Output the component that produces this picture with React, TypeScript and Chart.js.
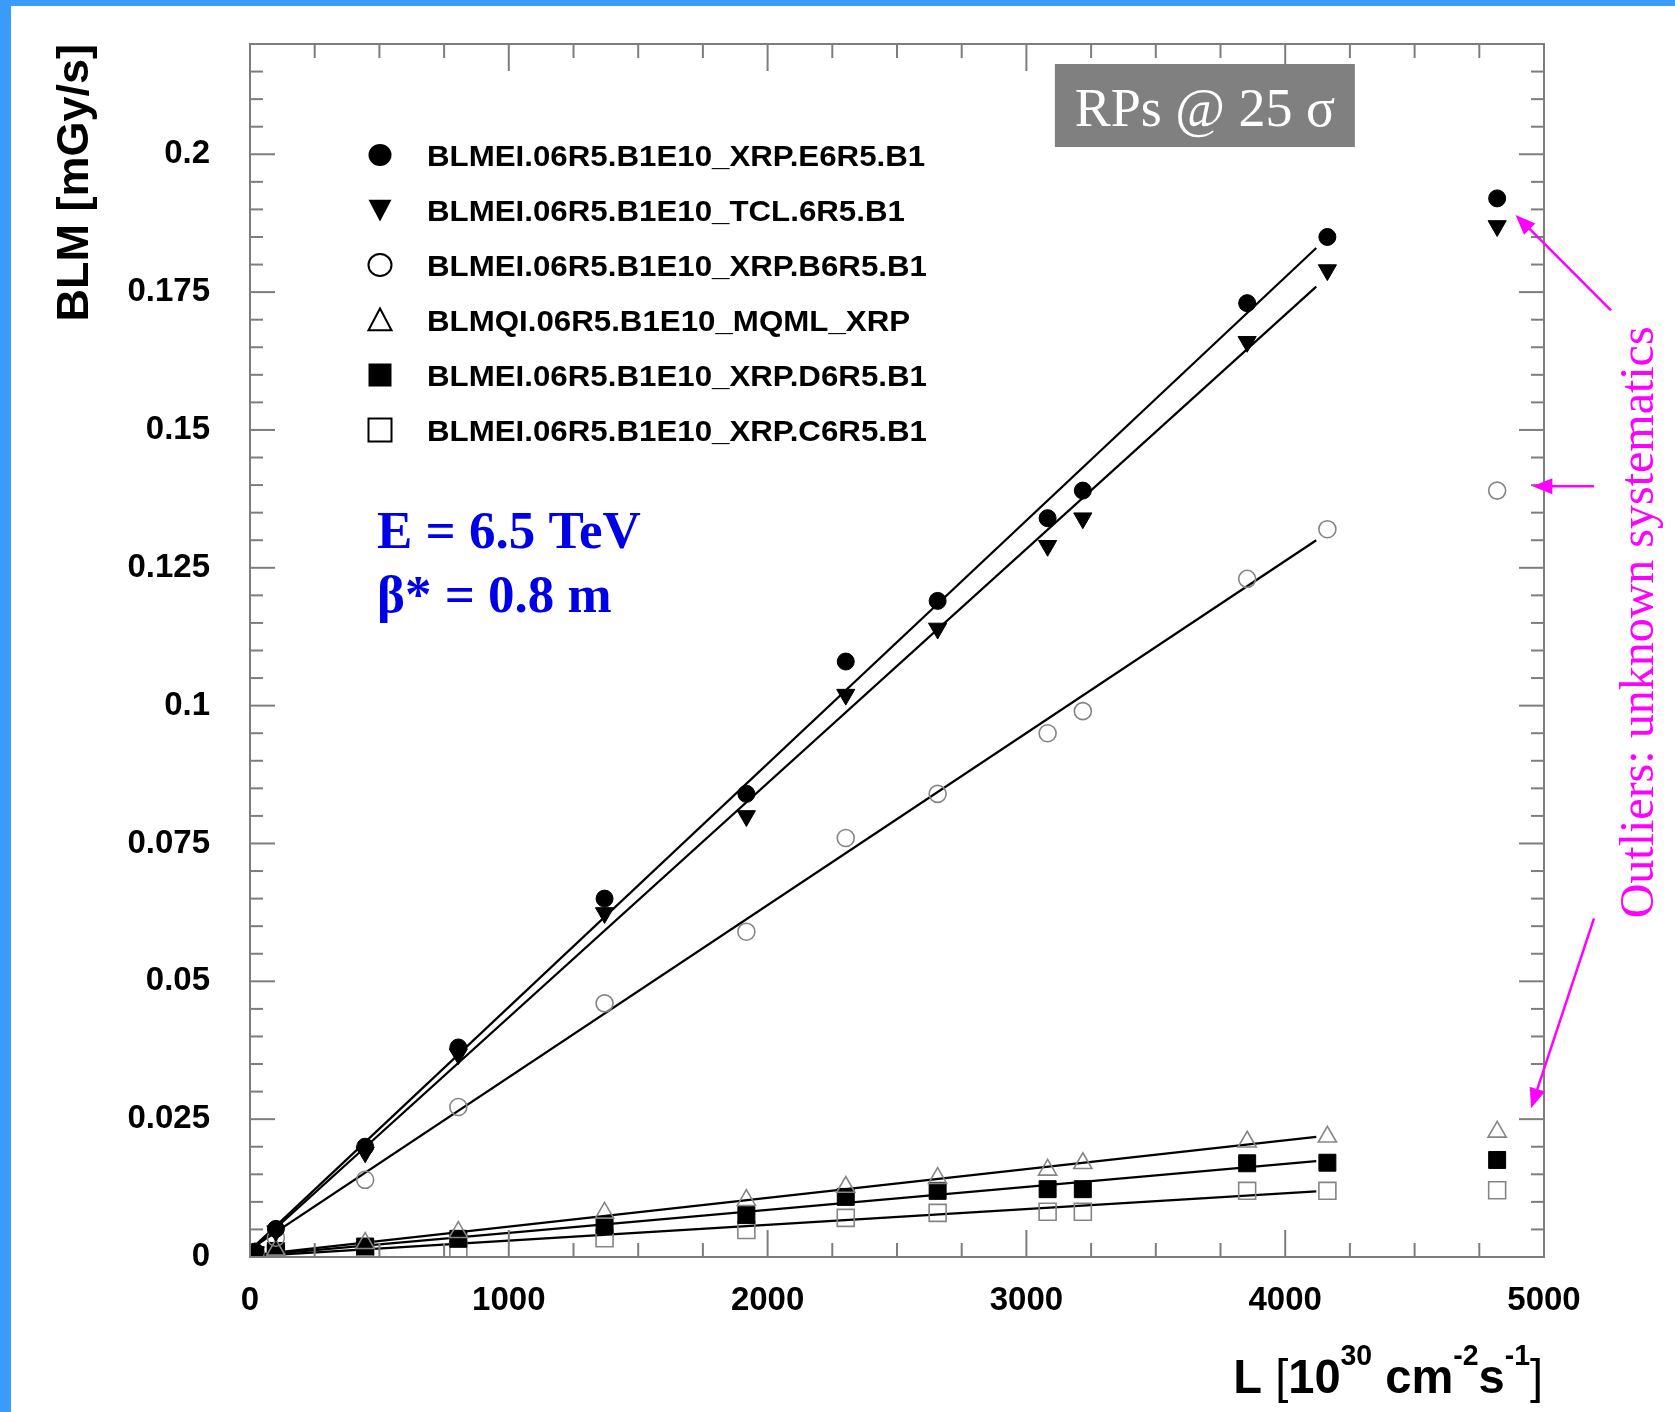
import React, { useEffect, useRef } from 'react';
import { Chart, registerables } from 'chart.js';

Chart.register(...registerables);

const SANS = '"Liberation Sans", Arial, Helvetica, sans-serif';
const SERIF = '"Liberation Serif", "Times New Roman", Times, serif';

// ---------------- data ----------------
const luminosity = [20, 100, 445, 805, 1370, 1918, 2302, 2657, 3082, 3218, 3853, 4163, 4819];

const seriesLabels = [
  'BLMEI.06R5.B1E10_XRP.E6R5.B1',
  'BLMEI.06R5.B1E10_TCL.6R5.B1',
  'BLMEI.06R5.B1E10_XRP.B6R5.B1',
  'BLMQI.06R5.B1E10_MQML_XRP',
  'BLMEI.06R5.B1E10_XRP.D6R5.B1',
  'BLMEI.06R5.B1E10_XRP.C6R5.B1',
];

const xrpE6 = [0.001, 0.0051, 0.020, 0.038, 0.065, 0.084, 0.108, 0.119, 0.134, 0.139, 0.173, 0.185, 0.192];
const tclB1 = [0.0009, 0.0047, 0.019, 0.0368, 0.0624, 0.080, 0.102, 0.114, 0.129, 0.134, 0.166, 0.179, 0.187];
const xrpB6 = [0.0008, 0.0035, 0.014, 0.0272, 0.046, 0.059, 0.076, 0.084, 0.095, 0.099, 0.123, 0.132, 0.139];
const mqmlXrp = [0.0004, 0.0013, 0.0025, 0.0045, 0.008, 0.0103, 0.0127, 0.0143, 0.0158, 0.017, 0.0209, 0.0218, 0.0227];
const xrpD6 = [0.0003, 0.0011, 0.0019, 0.0033, 0.0058, 0.0076, 0.0109, 0.012, 0.0123, 0.0123, 0.017, 0.0171, 0.0176];
const xrpC6 = [0.0002, 0.0006, 0.0012, 0.0013, 0.0034, 0.0049, 0.0071, 0.008, 0.0082, 0.0082, 0.012, 0.012, 0.0121];

// linear fits (end points)
const fitRange = [0, 4120];
const fitE6 = [0.0012, 0.183];
const fitTCL = [0.0010, 0.176];
const fitB6 = [0.0014, 0.130];
const fitMQML = [0.0003, 0.0218];
const fitD6 = [0.0002, 0.0174];
const fitC6 = [0.0001, 0.0119];

const xTicks = [0, 1000, 2000, 3000, 4000, 5000];
const yTicks = [0, 0.025, 0.05, 0.075, 0.1, 0.125, 0.15, 0.175, 0.2];

const boxText = 'RPs @ 25 σ';
const energyText = ['E = 6.5 TeV', 'β* = 0.8 m'];
const outlierText = 'Outliers: unknown systematics';
const yTitle = 'BLM [mGy/s]';
const xTitleParts = [
  { t: 'L ', bold: true, sup: false },
  { t: '[', bold: false, sup: false },
  { t: '10', bold: true, sup: false },
  { t: '30', bold: true, sup: true },
  { t: ' cm', bold: true, sup: false },
  { t: '-2', bold: true, sup: true },
  { t: 's', bold: true, sup: false },
  { t: '-1', bold: true, sup: true },
  { t: ']', bold: false, sup: false },
];

type Kind = 'circle' | 'triangleDown' | 'openCircle' | 'openTriangle' | 'square' | 'openSquare';
const kinds: Kind[] = ['circle', 'triangleDown', 'openCircle', 'openTriangle', 'square', 'openSquare'];
const seriesValues = [xrpE6, tclB1, xrpB6, mqmlXrp, xrpD6, xrpC6];
const fitValues = [fitE6, fitTCL, fitB6, fitMQML, fitD6, fitC6];

const OPEN_GRAY = '#858585';

function styleFor(kind: Kind) {
  switch (kind) {
    case 'circle':
      return { pointStyle: 'circle', pointRadius: 8.5, pointBackgroundColor: '#000', pointBorderColor: '#000', pointBorderWidth: 1, pointRotation: 0 };
    case 'triangleDown':
      return { pointStyle: 'triangle', pointRadius: 10.5, pointBackgroundColor: '#000', pointBorderColor: '#000', pointBorderWidth: 1, pointRotation: 180 };
    case 'openCircle':
      return { pointStyle: 'circle', pointRadius: 8.5, pointBackgroundColor: 'rgba(255,255,255,0)', pointBorderColor: OPEN_GRAY, pointBorderWidth: 1.6, pointRotation: 0 };
    case 'openTriangle':
      return { pointStyle: 'triangle', pointRadius: 10.5, pointBackgroundColor: 'rgba(255,255,255,0)', pointBorderColor: OPEN_GRAY, pointBorderWidth: 1.6, pointRotation: 0 };
    case 'square':
      return { pointStyle: 'rect', pointRadius: 12, pointBackgroundColor: '#000', pointBorderColor: '#000', pointBorderWidth: 1, pointRotation: 0 };
    default:
      return { pointStyle: 'rect', pointRadius: 12, pointBackgroundColor: 'rgba(255,255,255,0)', pointBorderColor: OPEN_GRAY, pointBorderWidth: 1.6, pointRotation: 0 };
  }
}

function drawLegendMarker(ctx: CanvasRenderingContext2D, kind: Kind, x: number, y: number, s: number) {
  const h = s / 2;
  ctx.beginPath();
  if (kind === 'circle' || kind === 'openCircle') {
    ctx.ellipse(x, y, h, h * 0.95, 0, 0, Math.PI * 2);
  } else if (kind === 'triangleDown') {
    ctx.moveTo(x - h, y - h * 0.9);
    ctx.lineTo(x + h, y - h * 0.9);
    ctx.lineTo(x, y + h * 1.0);
    ctx.closePath();
  } else if (kind === 'openTriangle') {
    ctx.moveTo(x - h, y + h * 0.9);
    ctx.lineTo(x + h, y + h * 0.9);
    ctx.lineTo(x, y - h * 1.0);
    ctx.closePath();
  } else {
    ctx.rect(x - h, y - h, s, s);
  }
  if (kind.startsWith('open')) {
    ctx.strokeStyle = '#000';
    ctx.lineWidth = 2;
    ctx.stroke();
  } else {
    ctx.fillStyle = '#000';
    ctx.fill();
  }
}

function arrow(ctx: CanvasRenderingContext2D, x1: number, y1: number, x2: number, y2: number) {
  const ang = Math.atan2(y2 - y1, x2 - x1);
  const hl = 20;
  const hw = 8;
  const bx = x2 - Math.cos(ang) * hl;
  const by = y2 - Math.sin(ang) * hl;
  ctx.beginPath();
  ctx.moveTo(x1, y1);
  ctx.lineTo(bx + Math.cos(ang) * 4, by + Math.sin(ang) * 4);
  ctx.stroke();
  ctx.beginPath();
  ctx.moveTo(x2, y2);
  ctx.lineTo(bx - Math.sin(ang) * hw, by + Math.cos(ang) * hw);
  ctx.lineTo(bx + Math.sin(ang) * hw, by - Math.cos(ang) * hw);
  ctx.closePath();
  ctx.fill();
}

const decorPlugin = {
  id: 'decor',
  beforeDraw(chart: any) {
    const { ctx, width, height } = chart;
    ctx.save();
    ctx.fillStyle = '#ffffff';
    ctx.fillRect(0, 0, width, height);
    ctx.fillStyle = '#3b9bfa';
    ctx.fillRect(0, 0, 11, height);
    ctx.fillRect(0, 0, width, 6);
    ctx.restore();
  },
  afterDraw(chart: any) {
    const { ctx, chartArea: a, scales } = chart;
    const x = scales.x;
    const y = scales.y;
    ctx.save();

    // frame and inward ticks (ROOT style)
    ctx.strokeStyle = '#7d7d7d';
    ctx.lineWidth = 2;
    ctx.strokeRect(a.left, a.top, a.right - a.left, a.bottom - a.top);
    const seg = (x1: number, y1: number, x2: number, y2: number) => {
      ctx.beginPath();
      ctx.moveTo(x1, y1);
      ctx.lineTo(x2, y2);
      ctx.stroke();
    };
    for (let i = 0; i <= 20; i++) {
      const px = x.getPixelForValue(i * 250);
      const len = i % 4 === 0 ? 27 : 14;
      seg(px, a.bottom, px, a.bottom - len);
      seg(px, a.top, px, a.top + len);
    }
    for (let i = 0; i <= 44; i++) {
      const py = y.getPixelForValue(i * 0.005);
      const len = i % 5 === 0 ? 25 : 13;
      seg(a.left, py, a.left + len, py);
      seg(a.right, py, a.right - len, py);
    }

    // legend
    const ds = chart.data.datasets.filter((d: any) => d.kind);
    ds.forEach((d: any, i: number) => {
      const cy = a.top + 111 + i * 55;
      drawLegendMarker(ctx, d.kind, a.left + 130, cy, 23);
      ctx.save();
      ctx.translate(a.left + 177, cy + 11);
      ctx.scale(1.06, 1);
      ctx.fillStyle = '#000';
      ctx.font = `bold 29.5px ${SANS}`;
      ctx.textAlign = 'left';
      ctx.textBaseline = 'alphabetic';
      ctx.fillText(d.label, 0, 0);
      ctx.restore();
    });

    // RPs box
    const bx = x.getPixelForValue(3110);
    ctx.fillStyle = '#808080';
    ctx.fillRect(bx, a.top + 20, 300, 83);
    ctx.fillStyle = '#ffffff';
    ctx.font = `54px ${SERIF}`;
    ctx.textAlign = 'center';
    ctx.textBaseline = 'alphabetic';
    ctx.fillText(boxText, bx + 150, a.top + 82);

    // energy text
    ctx.fillStyle = '#0000e6';
    ctx.font = `bold 53px ${SERIF}`;
    ctx.textAlign = 'left';
    ctx.fillText(energyText[0], a.left + 127, a.top + 504);
    ctx.fillText(energyText[1], a.left + 127, a.top + 568);

    // outliers annotation
    ctx.fillStyle = '#ff00ff';
    ctx.strokeStyle = '#ff00ff';
    ctx.lineWidth = 2.5;
    ctx.save();
    ctx.translate(a.right + 109, y.getPixelForValue(0.1151));
    ctx.rotate(-Math.PI / 2);
    ctx.font = `48px ${SERIF}`;
    ctx.textAlign = 'center';
    ctx.fillText(outlierText, 0, 0);
    ctx.restore();
    arrow(ctx, a.right + 67, y.getPixelForValue(0.1717), x.getPixelForValue(4890), y.getPixelForValue(0.189));
    arrow(ctx, a.right + 50, y.getPixelForValue(0.1398), x.getPixelForValue(4955), y.getPixelForValue(0.1398));
    arrow(ctx, a.right + 50, y.getPixelForValue(0.0614), x.getPixelForValue(4950), y.getPixelForValue(0.027));

    // x axis title with superscripts
    ctx.fillStyle = '#000';
    ctx.textAlign = 'left';
    ctx.textBaseline = 'alphabetic';
    const fontOf = (p: any) => `${p.bold ? 'bold ' : ''}${p.sup ? 29 : 48}px ${SANS}`;
    let total = 0;
    xTitleParts.forEach((p) => {
      ctx.font = fontOf(p);
      total += ctx.measureText(p.t).width;
    });
    const sx = 0.98;
    ctx.save();
    ctx.translate(a.right - 1 - total * sx, a.bottom + 136);
    ctx.scale(sx, 1);
    let cx = 0;
    xTitleParts.forEach((p) => {
      ctx.font = fontOf(p);
      ctx.fillText(p.t, cx, p.sup ? -28 : 0);
      cx += ctx.measureText(p.t).width;
    });
    ctx.restore();

    ctx.restore();
  },
};

export default function App() {
  const ref = useRef<HTMLCanvasElement | null>(null);

  useEffect(() => {
    if (!ref.current) return;
    const pointDatasets = kinds.map((kind, i) => ({
      type: 'scatter' as const,
      label: seriesLabels[i],
      kind,
      data: luminosity.map((lx, j) => ({ x: lx, y: seriesValues[i][j] })),
      showLine: false,
      ...styleFor(kind),
      order: 1,
    }));
    const fitDatasets = fitValues.map((f) => ({
      type: 'scatter' as const,
      label: '',
      data: fitRange.map((fx, j) => ({ x: fx, y: f[j] })),
      showLine: true,
      borderColor: '#000',
      borderWidth: 2.2,
      pointRadius: 0,
      order: 2,
    }));

    const tickFont = { family: SANS, size: 33, weight: 'bold' as const, lineHeight: 1.2 };

    const chart = new Chart(ref.current, {
      type: 'scatter',
      data: { datasets: [...pointDatasets, ...fitDatasets] as any },
      options: {
        animation: false,
        responsive: false,
        maintainAspectRatio: false,
        events: [],
        layout: { autoPadding: false, padding: { left: 0, top: 44, right: 131, bottom: 0 } },
        plugins: { legend: { display: false }, tooltip: { enabled: false } },
        scales: {
          x: {
            type: 'linear',
            min: 0,
            max: 5000,
            afterBuildTicks: (s: any) => {
              s.ticks = xTicks.map((v) => ({ value: v }));
            },
            afterFit: (s: any) => {
              s.height = 155;
              s.paddingLeft = 0;
              s.paddingRight = 0;
            },
            grid: { display: false, drawTicks: false },
            border: { display: false },
            ticks: {
              padding: 24,
              color: '#000',
              font: tickFont,
              maxRotation: 0,
              autoSkip: false,
              callback: (v: any) => String(v),
            },
          },
          y: {
            type: 'linear',
            min: 0,
            max: 0.22,
            afterBuildTicks: (s: any) => {
              s.ticks = yTicks.map((v) => ({ value: v }));
            },
            afterFit: (s: any) => {
              s.width = 250;
              s.paddingTop = 0;
              s.paddingBottom = 0;
            },
            grid: { display: false, drawTicks: false },
            border: { display: false },
            ticks: {
              padding: 40,
              color: '#000',
              font: tickFont,
              autoSkip: false,
              callback: (v: any) => String(+Number(v).toFixed(3)),
            },
            title: {
              display: true,
              text: yTitle,
              align: 'end',
              color: '#000',
              font: { family: SANS, size: 45, weight: 'bold', lineHeight: 1.2 },
              padding: { top: 49, bottom: 0 },
            },
          },
        },
      } as any,
      plugins: [decorPlugin],
    });
    return () => chart.destroy();
  }, []);

  return (
    <div style={{ position: 'absolute', left: 0, top: 0, width: 1675, height: 1412, background: '#fff' }}>
      <canvas ref={ref} width={1675} height={1412} style={{ display: 'block', width: 1675, height: 1412 }} />
    </div>
  );
}
